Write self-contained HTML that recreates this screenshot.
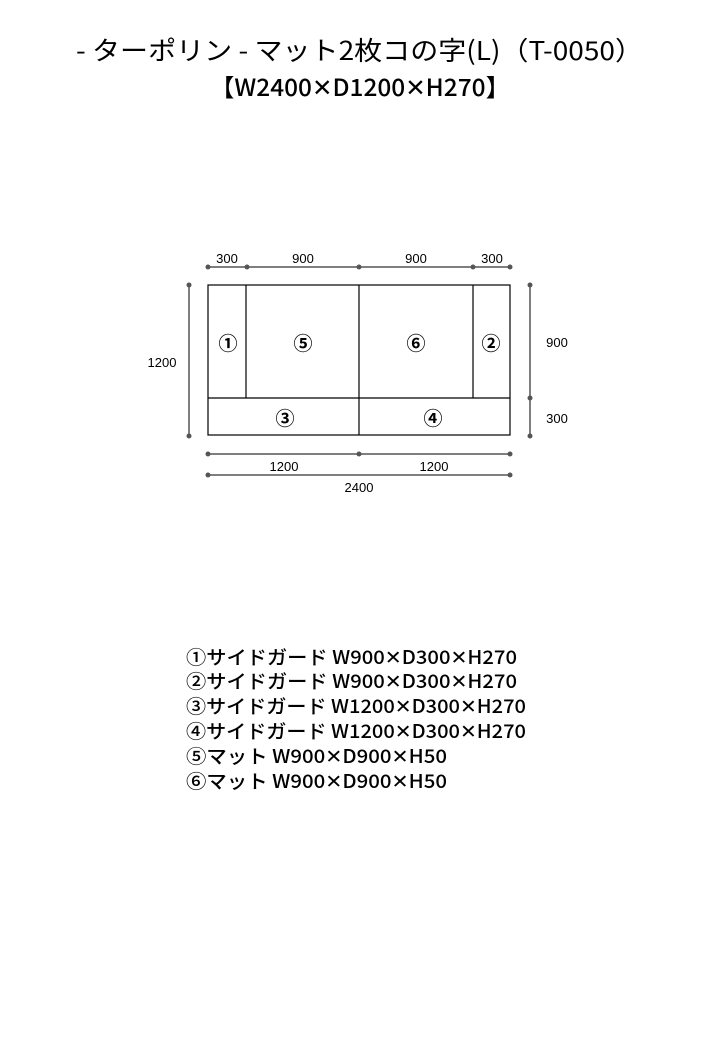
<!DOCTYPE html>
<html><head><meta charset="utf-8"><style>
html,body{margin:0;padding:0;background:#fff;}
svg{display:block;}
text{font-family:"Liberation Sans","Noto Sans CJK JP",sans-serif;fill:#000;}
.j{font-family:"Noto Sans CJK JP","Liberation Sans",sans-serif;}
.d{fill:#555;font-size:13px;}
</style></head><body>
<svg width="720" height="1040" viewBox="0 0 720 1040" xmlns="http://www.w3.org/2000/svg">
<text class="j" x="76" y="60" font-size="26" textLength="567" lengthAdjust="spacingAndGlyphs">- ターポリン - マット2枚コの字(L)（T-0050）</text>
<text class="j" x="210" y="96" font-size="24" textLength="300" lengthAdjust="spacingAndGlyphs" font-weight="500">【W2400✕D1200✕H270】</text>

<g stroke="#000" stroke-width="1.2" fill="none">
<rect x="208" y="285" width="302" height="150"/>
<line x1="246" y1="285" x2="246" y2="398"/>
<line x1="359" y1="285" x2="359" y2="435"/>
<line x1="473" y1="285" x2="473" y2="398"/>
<line x1="208" y1="398" x2="510" y2="398"/>
</g>
<g stroke="#555" stroke-width="1.5">
<line x1="208" y1="267" x2="510" y2="267"/>
<line x1="189" y1="285" x2="189" y2="436"/>
<line x1="530" y1="285" x2="530" y2="436"/>
<line x1="208" y1="454" x2="510" y2="454"/>
<line x1="208" y1="475" x2="510" y2="475"/>
</g>
<g fill="#555">
<circle cx="208" cy="267" r="2.5"/><circle cx="247" cy="267" r="2.5"/><circle cx="359" cy="267" r="2.5"/><circle cx="473" cy="267" r="2.5"/><circle cx="510" cy="267" r="2.5"/>
<circle cx="189" cy="285" r="2.5"/><circle cx="189" cy="436" r="2.5"/>
<circle cx="530" cy="285" r="2.5"/><circle cx="530" cy="398" r="2.5"/><circle cx="530" cy="436" r="2.5"/>
<circle cx="208" cy="454" r="2.5"/><circle cx="359" cy="454" r="2.5"/><circle cx="510" cy="454" r="2.5"/>
<circle cx="208" cy="475" r="2.5"/><circle cx="510" cy="475" r="2.5"/>
</g>
<g class="d" text-anchor="middle">
<text x="227" y="263">300</text><text x="303" y="263">900</text><text x="416" y="263">900</text><text x="492" y="263">300</text>
<text x="162" y="367">1200</text>
<text x="557" y="347">900</text><text x="557" y="423">300</text>
<text x="284" y="471">1200</text><text x="434" y="471">1200</text>
<text x="359" y="492">2400</text>
</g>
<g class="j" text-anchor="middle" font-size="19" font-weight="bold">
<text class="j" x="228" y="350">①</text><text class="j" x="303" y="350">⑤</text><text class="j" x="416" y="350">⑥</text><text class="j" x="491" y="350">②</text>
<text class="j" x="285" y="425">③</text><text class="j" x="433" y="425">④</text>
</g>
<g font-size="19" font-weight="500">
<text class="j" x="186" y="664" textLength="331" lengthAdjust="spacingAndGlyphs">①サイドガード W900✕D300✕H270</text>
<text class="j" x="186" y="688" textLength="331" lengthAdjust="spacingAndGlyphs">②サイドガード W900✕D300✕H270</text>
<text class="j" x="186" y="713" textLength="340" lengthAdjust="spacingAndGlyphs">③サイドガード W1200✕D300✕H270</text>
<text class="j" x="186" y="738" textLength="340" lengthAdjust="spacingAndGlyphs">④サイドガード W1200✕D300✕H270</text>
<text class="j" x="186" y="763" textLength="261" lengthAdjust="spacingAndGlyphs">⑤マット W900✕D900✕H50</text>
<text class="j" x="186" y="788" textLength="261" lengthAdjust="spacingAndGlyphs">⑥マット W900✕D900✕H50</text>
</g>
</svg>
</body></html>
